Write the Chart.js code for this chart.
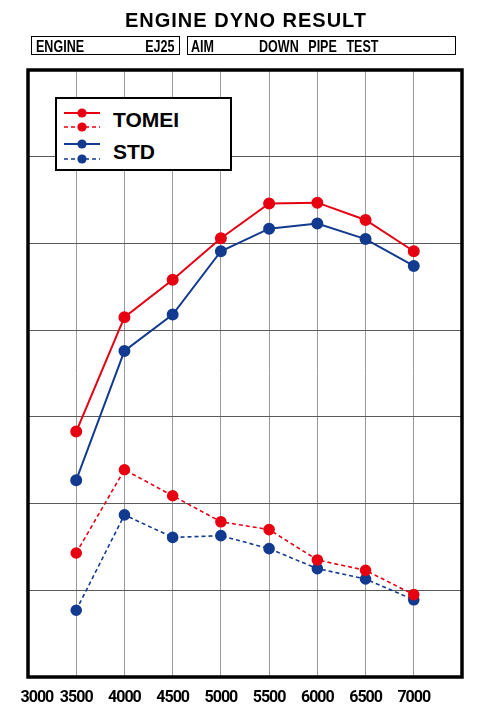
<!DOCTYPE html>
<html>
<head>
<meta charset="utf-8">
<script src="https://cdn.jsdelivr.net/npm/chart.js@4.4.1/dist/chart.umd.min.js"></script>
<style>
  html, body { margin: 0; padding: 0; background: #fff; }
  body { width: 488px; height: 724px; position: relative; overflow: hidden; font-family: 'Liberation Sans', Arial, sans-serif; }
  #title { position: absolute; left: 0; width: 492px; top: 8px; text-align: center; font-weight: bold; font-size: 20px; letter-spacing: 1px; line-height: 24px; color: #000; }
  .box { position: absolute; top: 36px; height: 17px; border: 1.5px solid #000; font-family: 'Liberation Sans', Arial, sans-serif; font-weight: bold; font-size: 16.5px; line-height: 18px; color: #000; }
  .box span { position: absolute; top: 0; white-space: nowrap; transform: scaleX(0.76); }
  #chartwrap { position: absolute; left: 0; top: 0; width: 488px; height: 724px; }
  #legend { position: absolute; left: 55px; top: 97px; width: 173px; height: 70px; border: 2px solid #000; background: #fff; }
  #legend svg { position: absolute; }
  #legend .lt { position: absolute; font-weight: bold; font-size: 21px; line-height: 24px; color: #000; }
</style>
</head>
<body>
<div id="chartwrap"><canvas id="c" width="488" height="724"></canvas></div>
<div id="title">ENGINE DYNO RESULT</div>
<div class="box" style="left:31px;width:147px;"><span style="left:4px;transform-origin:left center;">ENGINE</span><span style="right:4px;transform-origin:right center;">EJ25</span></div>
<div class="box" style="left:187px;width:267px;"><span style="left:3px;transform-origin:left center;">AIM</span><span style="left:71px;transform-origin:left center;word-spacing:8px;">DOWN PIPE TEST</span></div>
<div id="legend">
  <svg style="left:6px;top:8px" width="38" height="34">
    <line x1="1" y1="6" x2="37" y2="6" stroke="#e60012" stroke-width="2"/>
    <circle cx="19" cy="6" r="4.6" fill="#e60012"/>
    <line x1="1" y1="20" x2="37" y2="20" stroke="#e60012" stroke-width="1.6" stroke-dasharray="4,3"/>
    <circle cx="19" cy="20" r="4.6" fill="#e60012"/>
  </svg>
  <div class="lt" style="left:56px;top:9px;">TOMEI</div>
  <svg style="left:6px;top:39px" width="38" height="34">
    <line x1="1" y1="6" x2="37" y2="6" stroke="#123a8f" stroke-width="2"/>
    <circle cx="19" cy="6" r="4.6" fill="#123a8f"/>
    <line x1="1" y1="21" x2="37" y2="21" stroke="#123a8f" stroke-width="1.6" stroke-dasharray="4,3"/>
    <circle cx="19" cy="21" r="4.6" fill="#123a8f"/>
  </svg>
  <div class="lt" style="left:56px;top:41px;">STD</div>
</div>
<script>
const rpm = [3500, 4000, 4500, 5000, 5500, 6000, 6500, 7000];
const tomeiPower  = [2.83, 4.15, 4.58, 5.06, 5.46, 5.47, 5.27, 4.91];
const stdPower    = [2.27, 3.76, 4.18, 4.91, 5.17, 5.23, 5.05, 4.74];
const tomeiTorque = [1.43, 2.39, 2.09, 1.79, 1.70, 1.35, 1.23, 0.95];
const stdTorque   = [0.77, 1.87, 1.61, 1.63, 1.48, 1.25, 1.13, 0.89];
const xTickLabels = ['3000', '3500', '4000', '4500', '5000', '5500', '6000', '6500', '7000', ''];

const RED = '#e60012';
const BLUE = '#123a8f';

function pts(vals) { return rpm.map((r, i) => ({ x: r, y: vals[i] })); }

const borderPlugin = {
  id: 'plotBorder',
  beforeUpdate(chart) { try { chart.ctx.letterSpacing = '-1px'; } catch (e) {} },
  beforeDraw(chart) { try { chart.ctx.letterSpacing = '-1px'; } catch (e) {} },
  beforeDatasetsDraw(chart) {
    const a = chart.chartArea, ctx = chart.ctx;
    ctx.save();
    ctx.lineWidth = 3.5;
    ctx.strokeStyle = '#000';
    ctx.strokeRect(a.left, a.top, a.right - a.left, a.bottom - a.top);
    ctx.restore();
  }
};

new Chart(document.getElementById('c'), {
  type: 'line',
  data: {
    datasets: [
      { label: 'TOMEI', data: pts(tomeiPower), borderColor: RED, backgroundColor: RED, borderWidth: 2 },
      { label: 'STD', data: pts(stdPower), borderColor: BLUE, backgroundColor: BLUE, borderWidth: 2 },
      { label: 'TOMEI', data: pts(tomeiTorque), borderColor: RED, backgroundColor: RED, borderWidth: 1.6, borderDash: [4, 3] },
      { label: 'STD', data: pts(stdTorque), borderColor: BLUE, backgroundColor: BLUE, borderWidth: 1.6, borderDash: [4, 3] }
    ]
  },
  options: {
    responsive: false,
    animation: false,
    devicePixelRatio: 1,
    layout: { padding: { left: 28, right: 26, top: 70, bottom: 0 } },
    elements: {
      point: { radius: 5, borderWidth: 0, hoverRadius: 5 },
      line: { tension: 0, fill: false }
    },
    plugins: { legend: { display: false }, tooltip: { enabled: false }, title: { display: false } },
    scales: {
      x: {
        type: 'linear', min: 3000, max: 7500,
        afterBuildTicks(scale) { scale.ticks = xTickLabels.map((t, i) => ({ value: 3000 + 500 * i })); },
        afterFit(scale) { scale.height = 47; scale.paddingLeft = 0; scale.paddingRight = 0; },
        grid: { color: '#9a9a9a', lineWidth: 1, drawTicks: false, tickLength: 0 },
        border: { display: false },
        ticks: {
          autoSkip: false, maxRotation: 0, padding: 11, color: '#000',
          font: { family: "Roboto, 'Liberation Sans', sans-serif", size: 16, weight: 'bold' },
          callback(v, i) { return i === 0 ? '      ' + xTickLabels[i] : xTickLabels[i]; }
        }
      },
      y: {
        min: 0, max: 7,
        afterFit(scale) { scale.width = 0; scale.paddingTop = 0; scale.paddingBottom = 0; },
        grid: { color: '#5a5a5a', lineWidth: 1, drawTicks: false, tickLength: 0 },
        border: { display: false },
        ticks: { display: false, stepSize: 1 }
      }
    }
  },
  plugins: [borderPlugin]
});
</script>
</body>
</html>
